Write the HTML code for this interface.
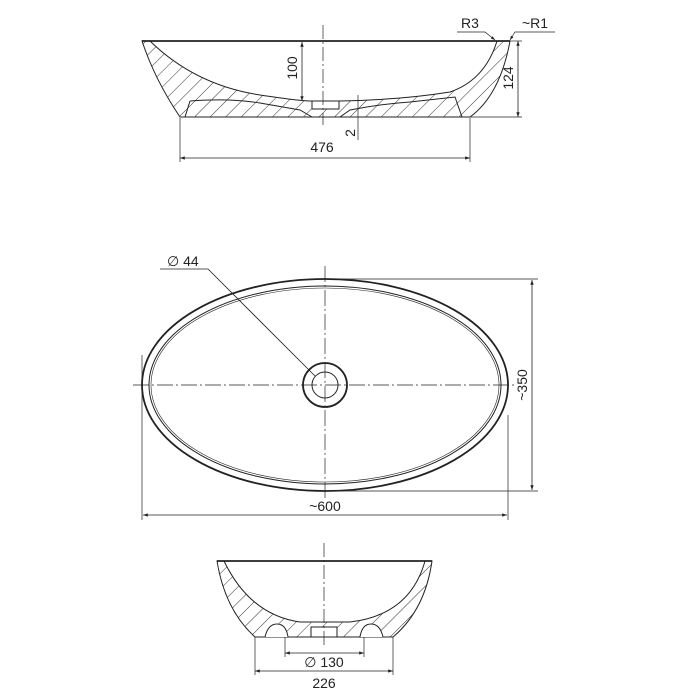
<!DOCTYPE html>
<html><head><style>body{margin:0;background:#fff}svg{display:block}text{font-family:"Liberation Sans",sans-serif;font-size:14px;fill:#222}</style></head><body>
<svg width="700" height="700" viewBox="0 0 700 700" xmlns="http://www.w3.org/2000/svg">
<defs>
<marker id="a" viewBox="0 0 10 10" refX="10" refY="5" markerWidth="9" markerHeight="6" orient="auto-start-reverse"><path d="M0,1.5 L10,5 L0,8.5z" fill="#222"/></marker>
<pattern id="h" width="11" height="11" patternUnits="userSpaceOnUse" patternTransform="rotate(45)"><line x1="0" y1="0" x2="0" y2="11" stroke="#333" stroke-width="1"/></pattern>
</defs>
<g fill="none" stroke="#222" stroke-width="1">
<path d="M142,41 L150,41 Q195,85 260,95 Q300,101 310,101 L340,101 Q400,100 450,92 Q485,80 497,41 L510,41 Q500,95 470,117 L180,117 Q155,80 142,41Z" fill="url(#h)"/>
<path d="M190,101 Q230,98 260,103 L300,110 L312,117 M340,117 L350,110 Q380,104 410,102 L455,97 L462,117 M190,101 L185,117" />
<rect x="312" y="101" width="27" height="8" fill="#fff"/>
<line x1="142" y1="41" x2="510" y2="41" stroke-width="1.8"/>
<line x1="323" y1="25" x2="323" y2="125" stroke-dasharray="14,3,2,3" stroke-width="0.7"/>
<line x1="302" y1="42" x2="302" y2="101" marker-start="url(#a)" marker-end="url(#a)" stroke-width="0.8"/>
<line x1="358" y1="95" x2="358" y2="140" stroke-width="0.7"/>
<line x1="180" y1="118" x2="180" y2="162" stroke-width="0.7"/>
<line x1="470" y1="118" x2="470" y2="162" stroke-width="0.7"/>
<line x1="180" y1="158" x2="470" y2="158" marker-start="url(#a)" marker-end="url(#a)" stroke-width="0.8"/>
<line x1="510" y1="41" x2="522" y2="41" stroke-width="0.7"/>
<line x1="470" y1="117" x2="522" y2="117" stroke-width="0.7"/>
<line x1="518" y1="41" x2="518" y2="117" marker-start="url(#a)" marker-end="url(#a)" stroke-width="0.8"/>
<path d="M457,32 L485,32 L495,40" marker-end="url(#a)" stroke-width="0.7"/>
<path d="M555,32 L515,32 L510,40" marker-end="url(#a)" stroke-width="0.7"/>
<ellipse cx="325" cy="385" rx="183" ry="106" stroke-width="1.8"/>
<ellipse cx="325" cy="385" rx="176" ry="99"/>
<ellipse cx="325" cy="385" rx="174" ry="97" stroke-width="0.6"/>
<circle cx="325" cy="385" r="22" stroke-width="1.8"/>
<circle cx="325" cy="385" r="13"/>
<line x1="133" y1="385" x2="515" y2="385" stroke-dasharray="16,3,2,3" stroke-width="0.7"/>
<line x1="325" y1="266" x2="325" y2="500" stroke-dasharray="16,3,2,3" stroke-width="0.7"/>
<path d="M160,269 L208,269 L315,376" stroke-width="0.8"/>
<line x1="325" y1="279" x2="538" y2="279" stroke-width="0.7"/>
<line x1="325" y1="491" x2="538" y2="491" stroke-width="0.7"/>
<line x1="532" y1="280" x2="532" y2="490" marker-start="url(#a)" marker-end="url(#a)" stroke-width="0.8"/>
<line x1="142" y1="355" x2="142" y2="520" stroke-width="0.7"/>
<line x1="508" y1="415" x2="508" y2="520" stroke-width="0.7"/>
<line x1="143" y1="515" x2="507" y2="515" marker-start="url(#a)" marker-end="url(#a)" stroke-width="0.8"/>
<path d="M217,561 L224,561 Q250,615 300,622 L350,622 Q410,615 425,561 L432,561 Q425,610 393,637 L255,637 Q225,610 217,561Z" fill="url(#h)"/>
<path d="M265,637 Q268,624 277,624 Q286,624 288,637 M360,637 Q362,624 371,624 Q380,624 383,637" fill="#fff"/>
<rect x="311" y="627" width="26" height="10" fill="#fff"/>
<line x1="217" y1="561" x2="432" y2="561" stroke-width="1.8"/>
<line x1="324" y1="543" x2="324" y2="645" stroke-dasharray="14,3,2,3" stroke-width="0.7"/>
<line x1="285" y1="637" x2="285" y2="657" stroke-width="0.7"/>
<line x1="364" y1="637" x2="364" y2="657" stroke-width="0.7"/>
<line x1="285" y1="653" x2="364" y2="653" marker-start="url(#a)" marker-end="url(#a)" stroke-width="0.8"/>
<line x1="255" y1="637" x2="255" y2="675" stroke-width="0.7"/>
<line x1="393" y1="637" x2="393" y2="675" stroke-width="0.7"/>
<line x1="255" y1="671" x2="393" y2="671" marker-start="url(#a)" marker-end="url(#a)" stroke-width="0.8"/>
</g>
<text x="322" y="152" text-anchor="middle">476</text>
<text transform="translate(297,68) rotate(-90)" text-anchor="middle">100</text>
<text transform="translate(513,78) rotate(-90)" text-anchor="middle">124</text>
<text transform="translate(355,133) rotate(-90)" text-anchor="middle">2</text>
<text x="461" y="28">R3</text>
<text x="522" y="28">~R1</text>
<text x="167" y="266">∅ 44</text>
<text transform="translate(527,385) rotate(-90)" text-anchor="middle">~350</text>
<text x="325" y="511" text-anchor="middle">~600</text>
<text x="324" y="667" text-anchor="middle">∅ 130</text>
<text x="324" y="688" text-anchor="middle">226</text>
</svg>
</body></html>
